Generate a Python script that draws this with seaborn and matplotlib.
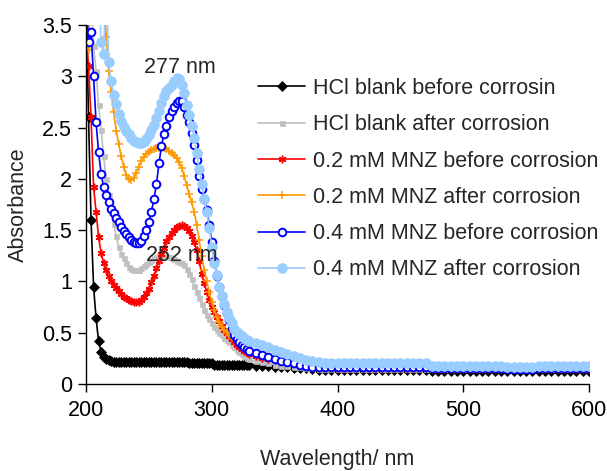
import matplotlib
matplotlib.use("Agg")
import matplotlib.pyplot as plt
import seaborn as sns
from matplotlib.ticker import FuncFormatter, MultipleLocator

# wavelength grid (nm)
wavelength = [
    200, 202, 204, 206, 208, 210, 212, 214, 216, 218,
    220, 222, 224, 226, 228, 230, 232, 234, 236, 238,
    240, 242, 244, 246, 248, 250, 252, 254, 256, 258,
    260, 262, 264, 266, 268, 270, 272, 274, 276, 278,
    280, 282, 284, 286, 288, 290, 292, 294, 296, 298,
    300, 302, 304, 306, 308, 310, 312, 314, 316, 318,
    320, 322, 324, 326, 328, 330,
    335, 340, 345, 350, 355, 360, 365, 370, 375, 380,
    385, 390, 395, 400, 405, 410, 415, 420, 425, 430,
    435, 440, 445, 450, 455, 460, 465, 470, 475, 480,
    485, 490, 495, 500, 505, 510, 515, 520, 525, 530,
    535, 540, 545, 550, 555, 560, 565, 570, 575, 580,
    585, 590, 595, 600,
]

hcl_before = [
    3.80, 2.60, 1.60, 0.95, 0.64, 0.42, 0.31, 0.26, 0.24, 0.23,
    0.22, 0.21, 0.21, 0.21, 0.21, 0.21, 0.21, 0.21, 0.21, 0.21,
    0.21, 0.21, 0.21, 0.21, 0.21, 0.21, 0.21, 0.21, 0.21, 0.21,
    0.21, 0.21, 0.21, 0.21, 0.21, 0.21, 0.21, 0.21, 0.21, 0.21,
    0.21, 0.20, 0.20, 0.20, 0.20, 0.20, 0.20, 0.20, 0.20, 0.20,
    0.20, 0.19, 0.19, 0.19, 0.19, 0.19, 0.19, 0.19, 0.19, 0.19,
    0.19, 0.19, 0.19, 0.19, 0.19, 0.19,
    0.18, 0.18, 0.18, 0.17, 0.17, 0.17, 0.16, 0.16, 0.16, 0.15,
    0.14, 0.14, 0.14, 0.14, 0.14, 0.14, 0.14, 0.14, 0.14, 0.14,
    0.14, 0.14, 0.14, 0.14, 0.14, 0.14, 0.14, 0.14, 0.13, 0.13,
    0.13, 0.13, 0.13, 0.13, 0.13, 0.13, 0.13, 0.13, 0.13, 0.13,
    0.13, 0.13, 0.13, 0.13, 0.13, 0.13, 0.13, 0.13, 0.13, 0.13,
    0.13, 0.13, 0.13, 0.13,
]

hcl_after = [
    4.00, 4.00, 3.80, 3.30, 3.05, 2.72, 2.48, 2.22, 2.00, 1.84,
    1.68, 1.56, 1.44, 1.34, 1.27, 1.23, 1.18, 1.14, 1.12, 1.11,
    1.11, 1.11, 1.13, 1.15, 1.17, 1.19, 1.21, 1.23, 1.24, 1.25,
    1.25, 1.25, 1.25, 1.24, 1.23, 1.22, 1.20, 1.19, 1.18, 1.16,
    1.12, 1.07, 1.02, 0.96, 0.90, 0.84, 0.78, 0.72, 0.67, 0.63,
    0.59, 0.56, 0.53, 0.50, 0.48, 0.45, 0.43, 0.41, 0.38, 0.36,
    0.33, 0.31, 0.29, 0.27, 0.25, 0.24,
    0.22, 0.21, 0.20, 0.19, 0.18, 0.18, 0.17, 0.17, 0.16, 0.16,
    0.15, 0.15, 0.15, 0.15, 0.15, 0.15, 0.15, 0.15, 0.15, 0.15,
    0.15, 0.15, 0.15, 0.15, 0.15, 0.15, 0.15, 0.15, 0.15, 0.15,
    0.15, 0.15, 0.15, 0.15, 0.15, 0.15, 0.15, 0.15, 0.15, 0.15,
    0.15, 0.15, 0.15, 0.15, 0.15, 0.15, 0.15, 0.15, 0.15, 0.15,
    0.15, 0.15, 0.15, 0.15,
]

mnz02_before = [
    3.45, 3.10, 2.60, 1.92, 1.68, 1.43, 1.28, 1.18, 1.11, 1.05,
    1.00, 0.97, 0.94, 0.91, 0.88, 0.85, 0.84, 0.82, 0.81, 0.80,
    0.80, 0.80, 0.82, 0.85, 0.89, 0.93, 0.99, 1.05, 1.13, 1.20,
    1.27, 1.33, 1.39, 1.43, 1.47, 1.50, 1.53, 1.54, 1.55, 1.54,
    1.52, 1.49, 1.44, 1.38, 1.31, 1.20, 1.07, 0.98, 0.90, 0.82,
    0.75, 0.70, 0.65, 0.61, 0.57, 0.53, 0.50, 0.47, 0.44, 0.41,
    0.38, 0.36, 0.34, 0.32, 0.31, 0.29,
    0.27, 0.25, 0.24, 0.23, 0.22, 0.21, 0.20, 0.19, 0.18, 0.17,
    0.16, 0.16, 0.16, 0.16, 0.16, 0.16, 0.16, 0.16, 0.16, 0.16,
    0.16, 0.16, 0.16, 0.16, 0.16, 0.16, 0.16, 0.16, 0.15, 0.15,
    0.15, 0.15, 0.15, 0.15, 0.15, 0.15, 0.15, 0.15, 0.15, 0.15,
    0.15, 0.15, 0.15, 0.15, 0.15, 0.15, 0.15, 0.15, 0.15, 0.15,
    0.15, 0.15, 0.15, 0.15,
]

mnz02_after = [
    3.30, 3.26, 4.00, 4.00, 4.00, 4.00, 4.00, 4.00, 3.38, 3.05,
    2.85, 2.65, 2.47, 2.34, 2.22, 2.12, 2.04, 2.00, 1.99, 2.01,
    2.06, 2.12, 2.17, 2.21, 2.24, 2.26, 2.28, 2.29, 2.30, 2.30,
    2.30, 2.30, 2.29, 2.27, 2.25, 2.23, 2.20, 2.16, 2.11, 2.03,
    1.94, 1.85, 1.77, 1.68, 1.55, 1.40, 1.25, 1.11, 1.00, 0.90,
    0.80, 0.72, 0.65, 0.60, 0.56, 0.53, 0.51, 0.48, 0.46, 0.44,
    0.42, 0.40, 0.38, 0.36, 0.35, 0.33,
    0.31, 0.29, 0.27, 0.25, 0.23, 0.21, 0.20, 0.19, 0.18, 0.17,
    0.16, 0.16, 0.16, 0.16, 0.16, 0.16, 0.16, 0.16, 0.16, 0.16,
    0.16, 0.16, 0.16, 0.16, 0.16, 0.16, 0.16, 0.16, 0.15, 0.15,
    0.15, 0.15, 0.15, 0.15, 0.15, 0.15, 0.15, 0.15, 0.15, 0.15,
    0.15, 0.15, 0.15, 0.15, 0.15, 0.15, 0.15, 0.15, 0.15, 0.15,
    0.15, 0.15, 0.15, 0.15,
]

mnz04_before = [
    3.80, 3.33, 3.43, 3.00, 2.55, 2.26, 2.05, 1.92, 1.84, 1.77,
    1.71, 1.67, 1.62, 1.58, 1.53, 1.49, 1.46, 1.43, 1.40, 1.38,
    1.37, 1.37, 1.39, 1.44, 1.50, 1.58, 1.68, 1.80, 1.95, 2.15,
    2.32, 2.44, 2.52, 2.60, 2.66, 2.70, 2.74, 2.76, 2.76, 2.70,
    2.62, 2.55, 2.45, 2.33, 2.18, 2.03, 1.90, 1.80, 1.70, 1.55,
    1.38, 1.20, 1.05, 0.95, 0.86, 0.77, 0.69, 0.62, 0.55, 0.48,
    0.44, 0.41, 0.38, 0.36, 0.34, 0.32,
    0.30, 0.28, 0.26, 0.24, 0.22, 0.21, 0.20, 0.19, 0.18, 0.17,
    0.17, 0.17, 0.17, 0.17, 0.17, 0.17, 0.17, 0.17, 0.17, 0.17,
    0.17, 0.17, 0.17, 0.17, 0.17, 0.17, 0.17, 0.17, 0.16, 0.16,
    0.16, 0.16, 0.16, 0.16, 0.16, 0.16, 0.16, 0.16, 0.16, 0.16,
    0.15, 0.15, 0.15, 0.15, 0.15, 0.16, 0.16, 0.16, 0.16, 0.16,
    0.16, 0.16, 0.16, 0.16,
]

mnz04_after = [
    4.00, 4.00, 4.00, 4.00, 4.00, 4.00, 3.33, 3.22, 4.00, 3.14,
    2.95, 2.82, 2.73, 2.63, 2.56, 2.51, 2.47, 2.44, 2.40, 2.37,
    2.36, 2.35, 2.35, 2.36, 2.39, 2.43, 2.48, 2.53, 2.59, 2.66,
    2.74, 2.81, 2.86, 2.89, 2.92, 2.95, 2.98, 2.97, 2.92, 2.84,
    2.72, 2.62, 2.52, 2.40, 2.25, 2.10, 1.95, 1.80, 1.68, 1.52,
    1.34, 1.18, 1.06, 0.95, 0.86, 0.78, 0.70, 0.64, 0.59, 0.54,
    0.51, 0.49, 0.47, 0.45, 0.43, 0.42,
    0.40, 0.38, 0.36, 0.33, 0.31, 0.29, 0.27, 0.25, 0.23, 0.22,
    0.21, 0.20, 0.20, 0.20, 0.20, 0.20, 0.20, 0.20, 0.20, 0.20,
    0.20, 0.20, 0.20, 0.20, 0.20, 0.20, 0.20, 0.20, 0.18, 0.18,
    0.18, 0.18, 0.18, 0.18, 0.18, 0.18, 0.18, 0.18, 0.18, 0.18,
    0.165, 0.165, 0.165, 0.165, 0.165, 0.18, 0.18, 0.18, 0.18, 0.18,
    0.18, 0.18, 0.18, 0.18,
]

labels = [
    "HCl blank before corrosin",
    "HCl blank after corrosion",
    "0.2 mM MNZ before corrosion",
    "0.2 mM MNZ after corrosion",
    "0.4 mM MNZ before corrosion",
    "0.4 mM MNZ after corrosion",
]

sns.set_style("ticks")
plt.rcParams["font.family"] = ["Liberation Sans", "DejaVu Sans"]
plt.rcParams["axes.unicode_minus"] = False
FS = 15.5

fig = plt.figure(figsize=(6.07, 4.71), dpi=100)
ax = fig.add_axes([0.1417, 0.1847, 0.8287, 0.7622])

styles = [
    dict(color="black", marker="D", markersize=5, markerfacecolor="black", markeredgecolor="black", markeredgewidth=0.5),
    dict(color="#C0C0C0", marker="s", markersize=3.6, markerfacecolor="#C0C0C0", markeredgecolor="#C0C0C0", markeredgewidth=0.5),
    dict(color="red", marker=(6, 2, 0), markersize=5.5, markerfacecolor="red", markeredgecolor="red", markeredgewidth=1.1),
    dict(color="#FF9900", marker="+", markersize=5.5, markeredgecolor="#FF9900", markeredgewidth=1.1),
    dict(color="#0000FF", marker="o", markersize=5.5, markerfacecolor="white", markeredgecolor="#0000FF", markeredgewidth=1.4),
    dict(color="#99CCFF", marker="o", markersize=7, markerfacecolor="#99CCFF", markeredgecolor="#99CCFF", markeredgewidth=0.5),
]
series = [hcl_before, hcl_after, mnz02_before, mnz02_after, mnz04_before, mnz04_after]

for y, lab, st in zip(series, labels, styles):
    sns.lineplot(x=wavelength, y=y, label=lab, ax=ax, sort=False, estimator=None,
                 linewidth=1.2, **st)

ax.set_xlim(200, 600)
ax.set_ylim(0, 3.5)
ax.xaxis.set_major_locator(MultipleLocator(100))
ax.yaxis.set_major_locator(MultipleLocator(0.5))
ax.yaxis.set_major_formatter(FuncFormatter(lambda v, p: f"{v:g}"))
ax.tick_params(direction="out", length=6, width=1, labelsize=FS, colors="black", pad=4)
ax.tick_params(axis="x", pad=5.5)
for s in ["top", "right"]:
    ax.spines[s].set_visible(False)
for s in ["left", "bottom"]:
    ax.spines[s].set_color("black")
    ax.spines[s].set_linewidth(1)

ax.set_xlabel("Wavelength/ nm", fontsize=FS)
ax.set_ylabel("Absorbance", fontsize=FS)
ax.xaxis.set_label_coords(0.5, -0.18)
ax.yaxis.set_label_coords(-0.113, 0.5)

ax.text(275, 3.09, "277 nm", ha="center", va="center", fontsize=FS)
ax.text(276, 1.25, "252 nm", ha="center", va="center", fontsize=FS)

ax.legend(loc="upper left", bbox_to_anchor=(258 / 607, 1 - 78 / 471), bbox_transform=fig.transFigure,
          frameon=False, fontsize=FS, handlelength=2.2, handletextpad=0.37, labelspacing=0.71,
          borderpad=0, borderaxespad=0)

fig.savefig("out.png", dpi=100)
